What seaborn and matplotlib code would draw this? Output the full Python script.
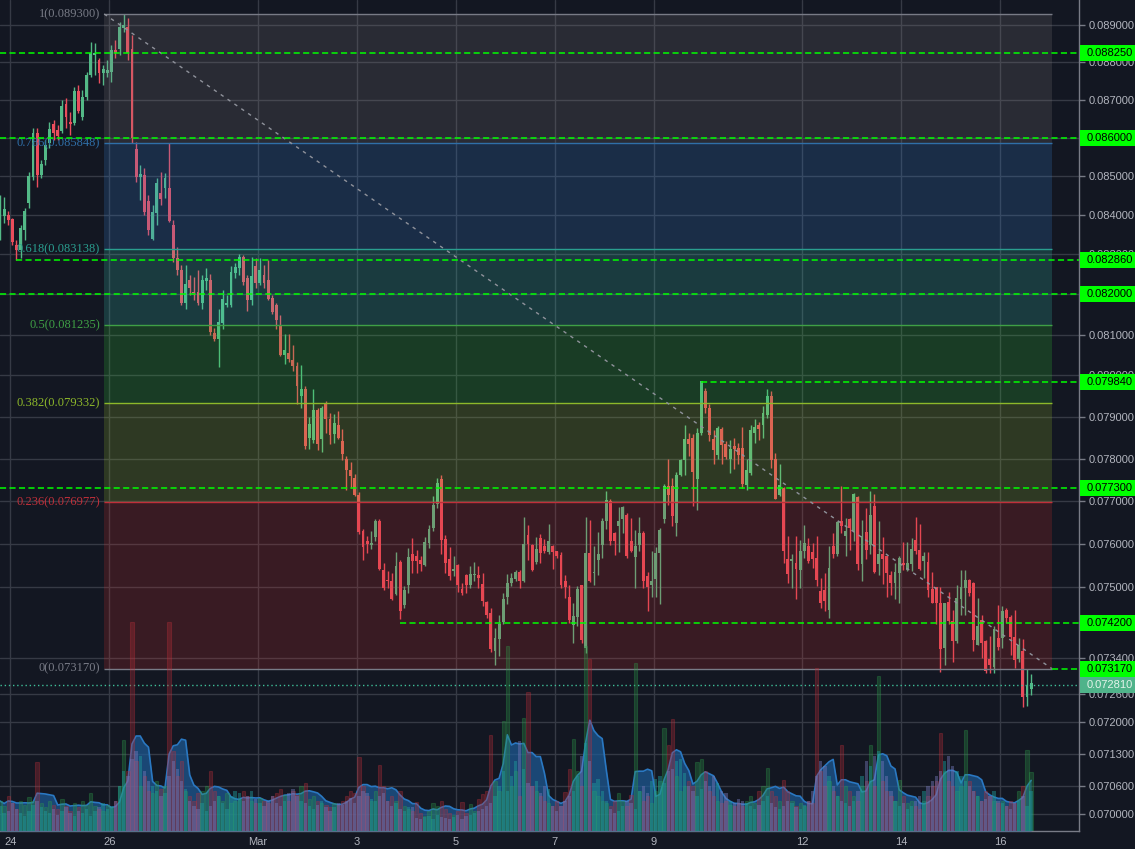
import numpy as np
import pandas as pd
import matplotlib
matplotlib.use('Agg')
import matplotlib.pyplot as plt
import matplotlib.transforms as mtransforms
from matplotlib.patches import Rectangle
import seaborn as sns

sns.set_theme(style='dark')
plt.rcParams['font.family'] = ['Liberation Sans', 'DejaVu Sans']

# ── DATA (2h candles) ────────────────────────────────────
opens = [
    0.08355, 0.08398, 0.08401, 0.08390, 0.08324, 0.08311, 0.08362, 0.08431, 0.08498, 0.08612,
    0.08503, 0.08542, 0.08586, 0.08636, 0.08620, 0.08617, 0.08688, 0.08641, 0.08638, 0.08723,
    0.08654, 0.08707, 0.08765, 0.08820, 0.08806, 0.08771, 0.08771, 0.08773, 0.08833, 0.08835,
    0.08892, 0.08895, 0.08835, 0.08570, 0.08498, 0.08503, 0.08436, 0.08339, 0.08406, 0.08456,
    0.08469, 0.08469, 0.08375, 0.08291, 0.08261, 0.08179, 0.08236, 0.08206, 0.08206, 0.08179,
    0.08233, 0.08236, 0.08104, 0.08089, 0.08128, 0.08172, 0.08174, 0.08253, 0.08266, 0.08293,
    0.08241, 0.08186, 0.08271, 0.08228, 0.08248, 0.08236, 0.08191, 0.08172, 0.08123, 0.08050,
    0.08055, 0.08038, 0.08023, 0.07951, 0.07966, 0.07848, 0.07843, 0.07915, 0.07846, 0.07930,
    0.07894, 0.07858, 0.07879, 0.07841, 0.07800, 0.07772, 0.07753, 0.07713, 0.07629, 0.07606,
    0.07597, 0.07615, 0.07653, 0.07539, 0.07516, 0.07514, 0.07485, 0.07558, 0.07460, 0.07505,
    0.07576, 0.07571, 0.07562, 0.07551, 0.07601, 0.07636, 0.07692, 0.07751, 0.07611, 0.07565,
    0.07537, 0.07551, 0.07496, 0.07528, 0.07505, 0.07528, 0.07528, 0.07507, 0.07467, 0.07442,
    0.07357, 0.07384, 0.07422, 0.07478, 0.07509, 0.07519, 0.07535, 0.07514, 0.07620, 0.07597,
    0.07558, 0.07613, 0.07594, 0.07581, 0.07594, 0.07583, 0.07574, 0.07514, 0.07478, 0.07415,
    0.07433, 0.07505, 0.07364, 0.07578, 0.07532, 0.07562, 0.07597, 0.07653, 0.07699, 0.07625,
    0.07641, 0.07657, 0.07667, 0.07606, 0.07569, 0.07597, 0.07625, 0.07525, 0.07505, 0.07519,
    0.07578, 0.07657, 0.07734, 0.07734, 0.07648, 0.07760, 0.07796, 0.07846, 0.07848, 0.07751,
    0.07860, 0.07961, 0.07922, 0.07846, 0.07808, 0.07870, 0.07834, 0.07800, 0.07829, 0.07824,
    0.07824, 0.07737, 0.07765, 0.07860, 0.07879, 0.07879, 0.07903, 0.07949, 0.07798, 0.07713,
    0.07730, 0.07565, 0.07560, 0.07555, 0.07539, 0.07583, 0.07594, 0.07581, 0.07567, 0.07491,
    0.07494, 0.07449, 0.07594, 0.07576, 0.07653, 0.07618, 0.07657, 0.07629, 0.07709, 0.07553,
    0.07627, 0.07597, 0.07688, 0.07553, 0.07576, 0.07571, 0.07528, 0.07509, 0.07532, 0.07555,
    0.07539, 0.07553, 0.07608, 0.07585, 0.07560, 0.07558, 0.07496, 0.07500, 0.07464, 0.07364,
    0.07467, 0.07424, 0.07379, 0.07473, 0.07498, 0.07516, 0.07509, 0.07370, 0.07426, 0.07379,
    0.07339, 0.07321, 0.07386, 0.07386, 0.07449, 0.07433, 0.07388, 0.07339, 0.07357, 0.07255,
    0.07272,
]
highs = [
    0.08451, 0.08446, 0.08411, 0.08393, 0.08337, 0.08375, 0.08418, 0.08511, 0.08625, 0.08625,
    0.08542, 0.08594, 0.08641, 0.08646, 0.08633, 0.08699, 0.08704, 0.08667, 0.08734, 0.08739,
    0.08726, 0.08773, 0.08854, 0.08852, 0.08811, 0.08792, 0.08806, 0.08846, 0.08860, 0.08908,
    0.08930, 0.08919, 0.08873, 0.08589, 0.08529, 0.08521, 0.08451, 0.08426, 0.08495, 0.08511,
    0.08508, 0.08586, 0.08388, 0.08319, 0.08273, 0.08273, 0.08248, 0.08243, 0.08261, 0.08248,
    0.08266, 0.08251, 0.08116, 0.08162, 0.08211, 0.08199, 0.08271, 0.08278, 0.08301, 0.08298,
    0.08248, 0.08293, 0.08291, 0.08291, 0.08273, 0.08286, 0.08199, 0.08179, 0.08147, 0.08101,
    0.08101, 0.08074, 0.08033, 0.08026, 0.07973, 0.07898, 0.07966, 0.07920, 0.07925, 0.07937,
    0.07908, 0.07906, 0.07913, 0.07870, 0.07805, 0.07791, 0.07763, 0.07720, 0.07634, 0.07618,
    0.07629, 0.07657, 0.07657, 0.07555, 0.07537, 0.07532, 0.07581, 0.07562, 0.07503, 0.07590,
    0.07613, 0.07585, 0.07571, 0.07615, 0.07643, 0.07711, 0.07753, 0.07760, 0.07620, 0.07592,
    0.07571, 0.07553, 0.07509, 0.07530, 0.07548, 0.07558, 0.07548, 0.07532, 0.07469, 0.07453,
    0.07408, 0.07438, 0.07487, 0.07530, 0.07532, 0.07539, 0.07539, 0.07662, 0.07643, 0.07599,
    0.07615, 0.07622, 0.07611, 0.07645, 0.07597, 0.07583, 0.07581, 0.07528, 0.07505, 0.07464,
    0.07503, 0.07505, 0.07662, 0.07655, 0.07594, 0.07627, 0.07660, 0.07723, 0.07704, 0.07627,
    0.07685, 0.07688, 0.07671, 0.07660, 0.07632, 0.07662, 0.07629, 0.07535, 0.07583, 0.07592,
    0.07636, 0.07739, 0.07800, 0.07753, 0.07767, 0.07800, 0.07879, 0.07862, 0.07858, 0.07872,
    0.07987, 0.07968, 0.07930, 0.07867, 0.07877, 0.07874, 0.07841, 0.07843, 0.07848, 0.07836,
    0.07874, 0.07800, 0.07879, 0.07894, 0.07886, 0.07925, 0.07966, 0.07961, 0.07812, 0.07786,
    0.07732, 0.07618, 0.07576, 0.07618, 0.07608, 0.07643, 0.07613, 0.07601, 0.07618, 0.07521,
    0.07532, 0.07594, 0.07625, 0.07653, 0.07734, 0.07660, 0.07660, 0.07718, 0.07711, 0.07655,
    0.07683, 0.07723, 0.07716, 0.07653, 0.07615, 0.07571, 0.07537, 0.07555, 0.07571, 0.07604,
    0.07604, 0.07613, 0.07662, 0.07645, 0.07581, 0.07581, 0.07535, 0.07500, 0.07500, 0.07464,
    0.07489, 0.07449, 0.07505, 0.07539, 0.07539, 0.07519, 0.07512, 0.07476, 0.07438, 0.07381,
    0.07390, 0.07413, 0.07460, 0.07458, 0.07453, 0.07438, 0.07449, 0.07386, 0.07384, 0.07315,
    0.07304,
]
lows = [
    0.08337, 0.08380, 0.08375, 0.08324, 0.08286, 0.08291, 0.08337, 0.08418, 0.08490, 0.08472,
    0.08495, 0.08529, 0.08573, 0.08594, 0.08594, 0.08612, 0.08625, 0.08607, 0.08633, 0.08665,
    0.08646, 0.08699, 0.08760, 0.08765, 0.08744, 0.08739, 0.08760, 0.08747, 0.08811, 0.08820,
    0.08881, 0.08806, 0.08586, 0.08485, 0.08439, 0.08401, 0.08350, 0.08337, 0.08375, 0.08426,
    0.08444, 0.08383, 0.08281, 0.08248, 0.08174, 0.08162, 0.08199, 0.08186, 0.08174, 0.08162,
    0.08211, 0.08099, 0.08084, 0.08021, 0.08113, 0.08167, 0.08167, 0.08241, 0.08248, 0.08223,
    0.08157, 0.08174, 0.08216, 0.08223, 0.08216, 0.08186, 0.08150, 0.08113, 0.08047, 0.08028,
    0.08033, 0.08011, 0.07930, 0.07922, 0.07822, 0.07822, 0.07836, 0.07820, 0.07815, 0.07860,
    0.07834, 0.07836, 0.07846, 0.07796, 0.07725, 0.07730, 0.07711, 0.07622, 0.07562, 0.07578,
    0.07587, 0.07606, 0.07539, 0.07494, 0.07498, 0.07471, 0.07483, 0.07429, 0.07453, 0.07487,
    0.07532, 0.07532, 0.07537, 0.07548, 0.07590, 0.07629, 0.07683, 0.07576, 0.07532, 0.07516,
    0.07525, 0.07489, 0.07483, 0.07487, 0.07498, 0.07514, 0.07498, 0.07458, 0.07431, 0.07355,
    0.07326, 0.07346, 0.07417, 0.07462, 0.07503, 0.07514, 0.07498, 0.07512, 0.07562, 0.07537,
    0.07553, 0.07555, 0.07578, 0.07576, 0.07542, 0.07567, 0.07498, 0.07476, 0.07419, 0.07375,
    0.07413, 0.07375, 0.07352, 0.07512, 0.07505, 0.07528, 0.07567, 0.07634, 0.07597, 0.07574,
    0.07581, 0.07625, 0.07567, 0.07581, 0.07498, 0.07583, 0.07498, 0.07447, 0.07478, 0.07478,
    0.07462, 0.07648, 0.07690, 0.07641, 0.07618, 0.07758, 0.07760, 0.07805, 0.07688, 0.07678,
    0.07855, 0.07910, 0.07841, 0.07786, 0.07800, 0.07788, 0.07798, 0.07765, 0.07774, 0.07788,
    0.07730, 0.07725, 0.07760, 0.07836, 0.07843, 0.07848, 0.07896, 0.07777, 0.07704, 0.07711,
    0.07555, 0.07509, 0.07498, 0.07473, 0.07498, 0.07567, 0.07555, 0.07544, 0.07503, 0.07453,
    0.07447, 0.07431, 0.07567, 0.07571, 0.07625, 0.07571, 0.07585, 0.07606, 0.07539, 0.07514,
    0.07565, 0.07576, 0.07532, 0.07528, 0.07507, 0.07478, 0.07483, 0.07473, 0.07464, 0.07539,
    0.07537, 0.07537, 0.07576, 0.07539, 0.07521, 0.07478, 0.07464, 0.07417, 0.07310, 0.07326,
    0.07417, 0.07332, 0.07375, 0.07438, 0.07438, 0.07480, 0.07357, 0.07370, 0.07341, 0.07308,
    0.07308, 0.07308, 0.07359, 0.07364, 0.07419, 0.07348, 0.07319, 0.07332, 0.07231, 0.07235,
    0.07259,
]
closes = [
    0.08413, 0.08416, 0.08388, 0.08332, 0.08311, 0.08367, 0.08411, 0.08500, 0.08612, 0.08503,
    0.08532, 0.08581, 0.08623, 0.08612, 0.08604, 0.08683, 0.08654, 0.08636, 0.08723, 0.08670,
    0.08707, 0.08765, 0.08825, 0.08825, 0.08771, 0.08782, 0.08779, 0.08833, 0.08825, 0.08895,
    0.08900, 0.08825, 0.08599, 0.08498, 0.08506, 0.08408, 0.08362, 0.08408, 0.08482, 0.08441,
    0.08495, 0.08385, 0.08291, 0.08261, 0.08179, 0.08226, 0.08216, 0.08203, 0.08179, 0.08236,
    0.08241, 0.08106, 0.08089, 0.08132, 0.08189, 0.08177, 0.08256, 0.08268, 0.08293, 0.08231,
    0.08186, 0.08246, 0.08228, 0.08261, 0.08228, 0.08189, 0.08155, 0.08137, 0.08050, 0.08062,
    0.08040, 0.08023, 0.07975, 0.07966, 0.07829, 0.07882, 0.07915, 0.07834, 0.07922, 0.07894,
    0.07855, 0.07884, 0.07848, 0.07810, 0.07772, 0.07758, 0.07713, 0.07627, 0.07592, 0.07599,
    0.07601, 0.07653, 0.07542, 0.07498, 0.07514, 0.07473, 0.07548, 0.07447, 0.07494, 0.07569,
    0.07560, 0.07560, 0.07553, 0.07604, 0.07634, 0.07690, 0.07741, 0.07608, 0.07555, 0.07525,
    0.07542, 0.07505, 0.07487, 0.07505, 0.07530, 0.07530, 0.07521, 0.07469, 0.07438, 0.07361,
    0.07386, 0.07417, 0.07473, 0.07509, 0.07521, 0.07535, 0.07514, 0.07599, 0.07599, 0.07539,
    0.07587, 0.07578, 0.07583, 0.07606, 0.07581, 0.07571, 0.07505, 0.07500, 0.07426, 0.07435,
    0.07496, 0.07381, 0.07578, 0.07514, 0.07535, 0.07576, 0.07653, 0.07702, 0.07606, 0.07606,
    0.07653, 0.07685, 0.07571, 0.07583, 0.07594, 0.07625, 0.07514, 0.07500, 0.07514, 0.07578,
    0.07632, 0.07734, 0.07713, 0.07664, 0.07760, 0.07796, 0.07846, 0.07834, 0.07767, 0.07862,
    0.07985, 0.07920, 0.07855, 0.07820, 0.07872, 0.07831, 0.07803, 0.07822, 0.07822, 0.07808,
    0.07739, 0.07772, 0.07867, 0.07874, 0.07870, 0.07910, 0.07949, 0.07796, 0.07704, 0.07737,
    0.07583, 0.07530, 0.07565, 0.07542, 0.07583, 0.07601, 0.07560, 0.07565, 0.07516, 0.07464,
    0.07469, 0.07544, 0.07576, 0.07650, 0.07641, 0.07629, 0.07636, 0.07716, 0.07553, 0.07618,
    0.07585, 0.07667, 0.07535, 0.07576, 0.07565, 0.07532, 0.07509, 0.07535, 0.07567, 0.07551,
    0.07555, 0.07587, 0.07583, 0.07542, 0.07571, 0.07494, 0.07464, 0.07464, 0.07361, 0.07464,
    0.07424, 0.07379, 0.07476, 0.07500, 0.07516, 0.07487, 0.07381, 0.07413, 0.07375, 0.07312,
    0.07326, 0.07406, 0.07366, 0.07447, 0.07431, 0.07388, 0.07335, 0.07370, 0.07255, 0.07279,
    0.07286,
]

# main volume (red/green outlined bars)
volume = [
    300, 250, 350, 280, 220, 300, 260, 340, 300, 690,
    280, 240, 300, 260, 220, 320, 250, 200, 280, 240,
    300, 260, 380, 250, 220, 200, 260, 240, 300, 450,
    910, 600, 2090, 700, 450, 550, 400, 380, 500, 420,
    450, 2090, 800, 550, 700, 400, 350, 300, 380, 400,
    450, 600, 400, 350, 300, 380, 280, 300, 320, 400,
    350, 300, 280, 330, 300, 280, 350, 380, 420, 360,
    300, 400, 360, 450, 480, 320, 350, 300, 280, 260,
    240, 280, 260, 300, 350, 400, 380, 740, 450, 350,
    300, 400, 660, 450, 300, 350, 300, 400, 250, 220,
    200, 290, 180, 150, 200, 280, 250, 300, 220, 180,
    160, 200, 290, 180, 270, 200, 320, 370, 400, 960,
    500, 400, 1100, 1850, 450, 600, 350, 1130, 1390, 450,
    400, 350, 300, 280, 250, 300, 250, 390, 620, 920,
    600, 450, 1850, 1720, 400, 350, 300, 280, 250, 300,
    380, 300, 250, 360, 1680, 400, 300, 350, 280, 400,
    500, 1030, 860, 1120, 550, 400, 450, 500, 450, 690,
    720, 600, 400, 350, 300, 280, 300, 260, 250, 280,
    250, 300, 350, 280, 400, 450, 630, 400, 350, 300,
    510, 400, 300, 250, 280, 250, 300, 280, 1630, 600,
    450, 500, 400, 350, 860, 450, 400, 350, 300, 450,
    500, 860, 450, 1550, 500, 400, 350, 300, 510, 350,
    280, 300, 250, 220, 300, 350, 450, 500, 980, 600,
    500, 450, 400, 450, 1010, 500, 400, 350, 300, 400,
    350, 300, 280, 300, 250, 300, 280, 400, 450, 810,
    590,
]
# second volume study (teal / lavender bars)
volume_alt = [
    250, 180, 200, 280, 220, 180, 150, 200, 260, 300,
    240, 200, 180, 220, 160, 200, 240, 180, 150, 200,
    180, 220, 150, 200, 240, 280, 220, 250, 300, 450,
    600, 550, 720, 800, 750, 600, 500, 450, 400, 350,
    380, 550, 700, 620, 500, 420, 300, 250, 220, 280,
    200, 250, 300, 350, 280, 220, 350, 400, 380, 300,
    350, 400, 320, 280, 250, 300, 350, 280, 250, 300,
    380, 420, 350, 300, 280, 250, 220, 260, 300, 240,
    200, 240, 280, 260, 300, 330, 280, 350, 400, 380,
    320, 300, 350, 380, 300, 250, 280, 220, 200, 240,
    240, 130, 120, 140, 150, 120, 160, 140, 130, 120,
    140, 160, 120, 150, 160, 180, 200, 220, 250, 280,
    350, 450, 600, 400, 550, 700, 900, 620, 480, 450,
    500, 380, 450, 420, 250, 200, 250, 300, 350, 400,
    550, 750, 880, 700, 480, 520, 400, 300, 220, 180,
    200, 250, 300, 280, 220, 400, 450, 380, 500, 520,
    550, 480, 600, 620, 700, 720, 580, 450, 400, 350,
    420, 500, 450, 550, 480, 400, 380, 300, 280, 320,
    300, 280, 250, 220, 260, 300, 350, 280, 240, 220,
    250, 300, 280, 240, 220, 260, 300, 400, 550, 700,
    650, 550, 450, 350, 300, 280, 250, 300, 400, 550,
    700, 650, 750, 800, 700, 550, 400, 300, 250, 280,
    220, 250, 300, 350, 400, 450, 500, 550, 600, 700,
    750, 650, 600, 550, 500, 450, 400, 350, 300, 320,
    350, 400, 300, 280, 250, 220, 280, 300, 350, 250,
    400,
]

fib_levels = ['1', '0.786', '0.618', '0.5', '0.382', '0.236', '0']
fib_prices = [0.089300, 0.085848, 0.083138, 0.081235, 0.079332, 0.076977, 0.073170]
fib_line_colors = ['#787b86', '#2f6fa8', '#2a9e8f', '#3fa045', '#8db82a', '#c0303a', '#787b86']
fib_fill_colors = ['#868081', '#3b8ae0', '#3bd0b8', '#36d536', '#9fc62c', '#d6302c']
fib_start = '2018-02-25 21:30'
fib_end = '2018-03-17 01:00'

# horizontal levels (price, first candle; None = full width)
sr_prices = [0.08825, 0.08600, 0.08286, 0.08200, 0.07984, 0.07730, 0.07420, 0.07317]
sr_start = [None, None, 4, None, 170, None, 97, 'fib']
last_price = 0.07281

y_ticks = [0.0890, 0.0880, 0.0870, 0.0860, 0.0850, 0.0840, 0.0830, 0.0820, 0.0810,
           0.0800, 0.0790, 0.0780, 0.0770, 0.0760, 0.0750, 0.0734, 0.0726, 0.0720,
           0.0713, 0.0706, 0.0700]
x_tick_dates = ['2018-02-24', '2018-02-26', '2018-03-01', '2018-03-03', '2018-03-05',
                '2018-03-07', '2018-03-09', '2018-03-12', '2018-03-14', '2018-03-16']
x_tick_labels = ['24', '26', 'Mar', '3', '5', '7', '9', '12', '14', '16']

# ── STYLE ────────────────────────────────────────────────
BG = '#131722'
GRID = '#363a45'
AXIS = '#787b86'
TXT = '#b2b5be'
UP = '#53b987'
DOWN = '#eb4d5c'
LIME = '#00ff00'

times = pd.date_range('2018-02-23 19:00', periods=len(closes), freq='2h')
df = pd.DataFrame({'time': times, 'open': opens, 'high': highs, 'low': lows,
                   'close': closes, 'volume': volume, 'volume_alt': volume_alt})
df['up'] = df['close'] >= df['open']
df['color'] = np.where(df['up'], UP, DOWN)
df['vol_ma'] = df['volume'].rolling(5, min_periods=1).mean()

step = pd.Timedelta(hours=2)
bw = 0.7 / 12

fig = plt.figure(figsize=(11.35, 8.49), dpi=100, facecolor=BG)
ax = fig.add_axes([0, 18 / 849, 1079 / 1135, 831 / 849])
ax.set_facecolor(BG)
ax.set_yscale('log')
ax.set_ylim(0.069641, 0.08968)
ax.set_xlim(times[0], times[0] + 261.6 * step)
x_left, x_right = ax.get_xlim()

# candles
ax.vlines(df['time'], df['low'], df['high'], colors=df['color'], lw=1, zorder=3)
body_lo = df[['open', 'close']].min(axis=1)
body_h = (df['close'] - df['open']).abs().clip(lower=0.000018)
ax.bar(df['time'], body_h, bottom=body_lo, width=bw, color=df['color'],
       lw=0, zorder=3)

# fib retracement
fs, fe = pd.Timestamp(fib_start), pd.Timestamp(fib_end)
for i in range(len(fib_fill_colors)):
    ax.fill_between([fs, fe], fib_prices[i + 1], fib_prices[i],
                    color=fib_fill_colors[i], alpha=0.2, lw=0, zorder=4)
for lvl, p, c in zip(fib_levels, fib_prices, fib_line_colors):
    ax.hlines(p, fs, fe, color=c, lw=1, zorder=5)
    ax.annotate(f'{lvl}({p:.6f})', xy=(fs, p), xytext=(-4, 0),
                textcoords='offset pixels', ha='right', va='center',
                fontsize=9, color=c, family='Liberation Serif', zorder=6)

# diagonal trend line of the fib
trend = pd.DataFrame({'time': [fs, fe], 'price': [fib_prices[0], fib_prices[-1]]})
sns.lineplot(data=trend, x='time', y='price', ax=ax, color='#8f929b', lw=1, zorder=5)
ax.lines[-1].set_dashes((2.5, 3.5))

# green dashed levels
for p, s in zip(sr_prices, sr_start):
    if s is None:
        x0 = x_left
    elif s == 'fib':
        x0 = matplotlib.dates.date2num(fe)
    else:
        x0 = matplotlib.dates.date2num(times[s])
    ax.plot([x0, x_right], [p, p], color=LIME, lw=1.1, dashes=(4, 2.2), zorder=6)

# last price dotted
ax.axhline(last_price, color='#3fbf99', lw=1, ls=(0, (1, 2)), zorder=6)

# ── volume pane (overlay) ────────────────────────────────
vax = ax.twinx()
vax.set_ylim(0, 8310)
vax.set_xlim(x_left, x_right)
vax.fill_between(df['time'], 0, df['vol_ma'], color='#1d5c99', alpha=0.7, lw=0, zorder=1)
sns.lineplot(data=df, x='time', y='vol_ma', ax=vax, color='#2a78c2', lw=1.2, zorder=2)
vcol = np.where(df['up'], '#2e9d4a', '#c0303a')
vax.bar(df['time'], df['volume'], width=bw * 1.15, color=vcol, alpha=0.3,
        edgecolor=vcol, lw=0.8, zorder=3)
acol = np.where(df['up'], '#1f9c9b', '#7477b8')
vax.bar(df['time'], df['volume_alt'], width=bw * 1.15, color=acol, alpha=0.45,
        lw=0, zorder=4)
vax.set_yticks([])
vax.set_xlabel('')
vax.set_ylabel('')
for s in vax.spines.values():
    s.set_visible(False)
vax.grid(False)

# axes styling (after twinx, which moves the price ticks to the left)
ax.set_yticks(y_ticks)
ax.yaxis.set_minor_locator(matplotlib.ticker.NullLocator())
ax.set_yticklabels([f'{t:.6f}' for t in y_ticks])
ax.set_xticks(pd.to_datetime(x_tick_dates))
ax.set_xticklabels(x_tick_labels)
ax.yaxis.tick_right()
ax.yaxis.set_label_position('right')
ax.grid(True, color=GRID, lw=1)
ax.set_axisbelow(True)
ax.tick_params(axis='y', which='both', left=False, labelleft=False, right=True,
               labelright=True, direction='out', length=4, width=1, color=AXIS,
               labelcolor=TXT, labelsize=8, pad=3)
ax.tick_params(axis='x', direction='out', length=3, width=1, color=AXIS,
               labelcolor=TXT, labelsize=8, pad=1)
for lbl in ax.get_xticklabels():
    lbl.set_family(['Liberation Sans Narrow', 'Liberation Sans'])
for side in ['top', 'left']:
    ax.spines[side].set_visible(False)
for side in ['right', 'bottom']:
    ax.spines[side].set_color(AXIS)
    ax.spines[side].set_linewidth(1)
ax.set_xlabel('')
ax.set_ylabel('')

# price tags on the right axis
blend = mtransforms.blended_transform_factory(ax.transAxes, ax.transData)
H = fig.bbox.height


def price_tag(p, fc, tc):
    yd = blend.transform((1, p))[1]
    fig.add_artist(Rectangle((1080 / 1135, (yd - 8) / H), 55 / 1135, 16 / H,
                             transform=fig.transFigure, fc=fc, ec='none'))
    fig.text(1087 / 1135, yd / H, f'{p:.6f}', ha='left', va='center',
             fontsize=8, color=tc)


for p in sr_prices:
    price_tag(p, LIME, '#000000')
price_tag(last_price, '#4fb38a', '#e3f4ea')

fig.savefig('out.png', dpi=100, facecolor=BG)
